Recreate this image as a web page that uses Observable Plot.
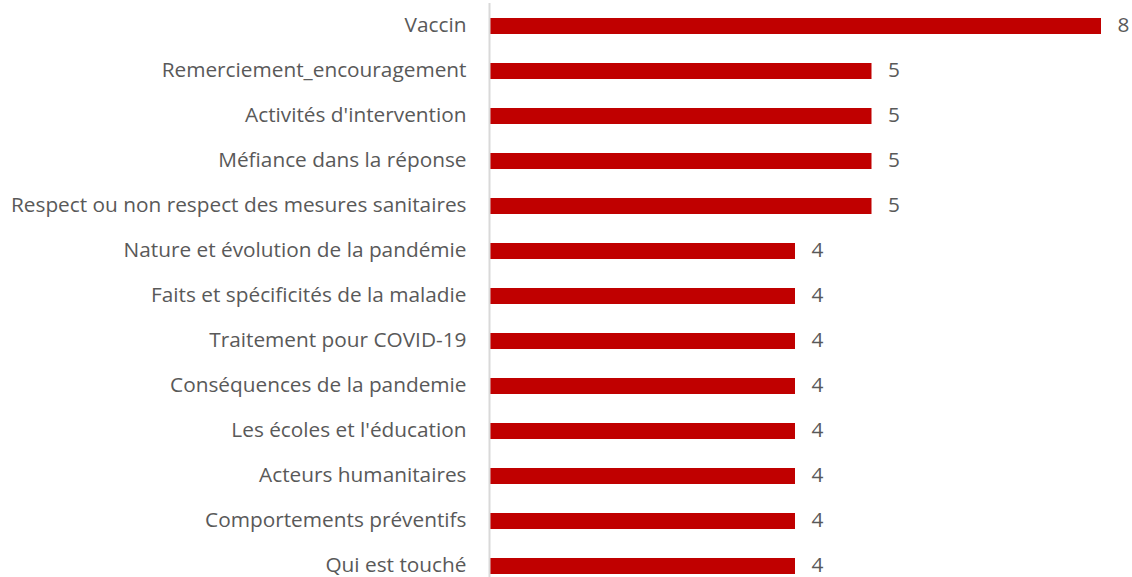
<!DOCTYPE html>
<html><head><meta charset="utf-8">
<script src="https://cdn.jsdelivr.net/npm/d3@7"></script>
<script src="https://cdn.jsdelivr.net/npm/@observablehq/plot@0.6"></script>
<style>body{margin:0;background:#fff}</style>
</head><body><div id="chart"></div>
<script>
const categories = ["Vaccin","Remerciement_encouragement","Activités d'intervention","Méfiance dans la réponse","Respect ou non respect des mesures sanitaires","Nature et évolution de la pandémie","Faits et spécificités de la maladie","Traitement pour COVID-19","Conséquences de la pandemie","Les écoles et l'éducation","Acteurs humanitaires","Comportements préventifs","Qui est touché"];
const values = [8,5,5,5,5,4,4,4,4,4,4,4,4];
const data = categories.map((c,i)=>({cat:c, v:values[i]}));
const chart = Plot.plot({
  width:1132, height:577,
  marginLeft:489, marginRight:31, marginTop:3, marginBottom:0,
  style:{fontFamily:"'Open Sans', sans-serif", fontSize:"20.8px", color:"#595959", background:"#fff"},
  x:{domain:[0,8], axis:null},
  y:{domain:categories, range:[2,589], paddingInner:0.645, paddingOuter:0.3225, label:null},
  marks:[
    Plot.barX(data,{x:"v", y:"cat", fill:"#C00000"}),
    Plot.text(data,{x:"v", y:"cat", text:d=>String(d.v), dx:16, dy:-1, textAnchor:"start", fill:"#595959", fontSize:20.8}),
    Plot.axisY({tickSize:0, tickPadding:23, dy:-1, fontSize:20.8, fill:"#595959", label:null}),
    Plot.ruleX([0],{stroke:"#d9d9d9", strokeWidth:2})
  ]
});
document.getElementById("chart").append(chart);
</script></body></html>
